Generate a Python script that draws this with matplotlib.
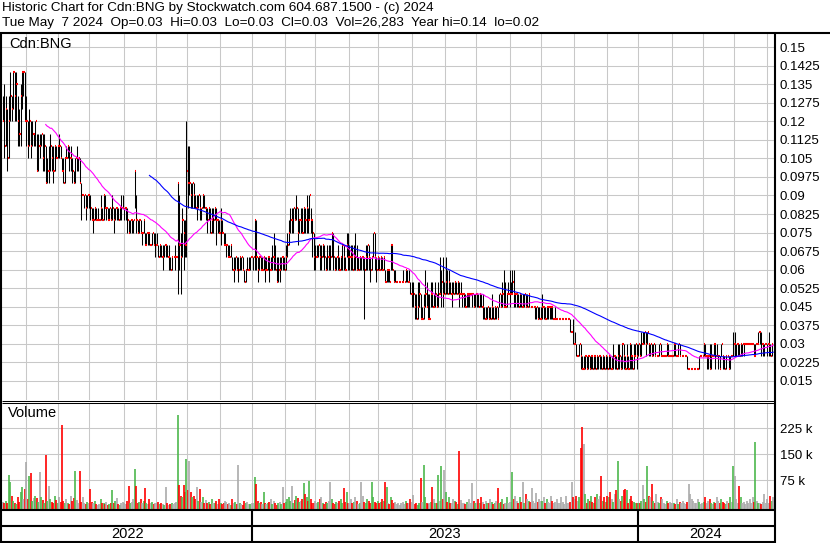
import matplotlib
matplotlib.use('Agg')
import matplotlib.pyplot as plt
import numpy as np
import pandas as pd

plt.rcParams['font.family'] = ['Liberation Sans', 'DejaVu Sans']

# daily prices in half-cent units (1 = $0.005), one row per month, May 2022 .. May 2024
close_hc = [
    [24, 22, 25, 21, 24, 26, 25, 28, 26, 27, 24, 23, 26, 28, 28, 24],
    [24, 22, 24, 22, 23, 23, 24, 20, 22, 22, 23, 21, 22, 19, 20, 20, 22, 21, 20, 22, 21, 22],
    [22, 21, 20, 19, 21, 21, 22, 21, 21, 20, 19, 21, 21, 21, 19, 18, 18, 18, 17, 18, 18],
    [17, 16, 16, 17, 16, 16, 16, 17, 16, 18, 17, 17, 16, 17, 16, 17, 16, 17, 17, 16, 17, 17, 17],
    [17, 17, 16, 15, 16, 16, 16, 20, 16, 15, 16, 15, 15, 16, 14, 15, 15, 14, 14, 15, 14, 14],
    [14, 13, 14, 13, 13, 14, 14, 13, 13, 12, 13, 13, 13, 13, 19, 14, 13, 16, 15, 14, 20],
    [19, 19, 18, 19, 18, 17, 17, 18, 17, 17, 18, 17, 17, 16, 17, 15, 16, 16, 17, 16, 16, 15],
    [16, 15, 14, 14, 14, 13, 13, 14, 12, 12, 13, 12, 12, 13, 13, 12, 11, 12, 12, 12, 13, 13],
    [13, 16, 13, 12, 13, 12, 12, 13, 12, 12, 13, 12, 12, 13, 13, 12, 11, 12, 12, 13, 13, 12],
    [13, 14, 15, 16, 16, 17, 16, 17, 15, 16, 16, 15, 17, 16, 17, 16, 18, 16, 15, 13],
    [13, 13, 14, 13, 13, 14, 13, 12, 13, 13, 13, 15, 13, 12, 13, 13, 12, 13, 14, 13, 12, 14, 13],
    [13, 13, 12, 13, 13, 12, 12, 13, 13, 13, 12, 13, 14, 13, 12, 13, 15, 13, 12, 13],
    [12, 13, 12, 13, 11, 12, 12, 11, 14, 12, 11, 11, 11, 11, 11, 11, 11, 11, 12, 11, 11, 10, 10],
    [10, 9, 8, 9, 10, 8, 8, 9, 10, 9, 8, 8, 10, 9, 9, 10, 9, 10, 10, 11, 10, 10],
    [11, 10, 11, 10, 10, 10, 11, 10, 11, 10, 10, 10, 10, 9, 10, 10, 10, 10, 10, 9, 10],
    [10, 9, 10, 9, 9, 8, 8, 9, 8, 8, 9, 8, 9, 9, 8, 10, 9, 10, 9, 9, 10, 10, 10],
    [10, 11, 10, 10, 10, 9, 10, 9, 9, 10, 9, 9, 10, 9, 9, 9, 9, 9, 8, 8, 8],
    [9, 9, 8, 9, 9, 9, 9, 8, 8, 8, 8, 8, 8, 8, 8, 8, 8, 8, 8, 7, 7, 6],
    [6, 5, 5, 6, 5, 4, 4, 5, 4, 5, 4, 5, 4, 5, 4, 5, 5, 5, 4, 5, 4, 5],
    [4, 5, 4, 4, 5, 5, 4, 5, 5, 4, 6, 5, 4, 5, 4, 6, 5, 4, 5, 6, 5],
    [6, 5, 6, 6, 7, 6, 7, 6, 6, 5, 6, 5, 5, 5, 6, 5, 5, 5, 5, 6, 5, 5, 5],
    [5, 6, 5, 5, 6, 5, 5, 5, 5, 5, 4, 4, 4, 4, 4, 4, 4, 4, 5, 5, 5],
    [6, 5, 5, 5, 4, 5, 5, 6, 5, 5, 5, 4, 6, 5, 4, 5, 5, 4, 5, 5, 6],
    [6, 6, 6, 5, 6, 6, 6, 6, 6, 6, 6, 6, 6, 5, 6, 6, 7, 7, 6, 6, 6, 6],
    [6, 6, 5, 6, 6],
]
high_hc = [
    [26, 27, 26, 25, 26, 28, 26, 28, 28, 28, 26, 25, 27, 28, 28, 28],
    [26, 24, 25, 24, 24, 23, 24, 23, 23, 23, 23, 23, 23, 22, 21, 22, 23, 22, 22, 22, 22, 22],
    [23, 22, 21, 21, 21, 22, 22, 22, 22, 21, 20, 21, 22, 21, 21, 19, 18, 18, 18, 18, 18],
    [18, 17, 17, 17, 17, 17, 16, 18, 17, 18, 18, 17, 17, 17, 17, 18, 17, 17, 17, 17, 17, 18, 18],
    [17, 17, 17, 16, 16, 16, 16, 20, 18, 16, 16, 16, 15, 16, 15, 15, 15, 15, 14, 15, 15, 15],
    [15, 14, 14, 14, 14, 14, 14, 14, 14, 13, 13, 13, 14, 13, 19, 18, 15, 17, 16, 16, 24],
    [22, 22, 19, 19, 19, 18, 18, 18, 18, 17, 18, 18, 17, 17, 17, 17, 17, 17, 17, 17, 16, 16],
    [17, 16, 15, 15, 14, 14, 14, 14, 13, 13, 13, 13, 13, 13, 13, 13, 12, 12, 13, 13, 13, 13],
    [13, 16, 16, 13, 13, 13, 13, 13, 13, 13, 13, 13, 13, 14, 15, 14, 13, 13, 13, 13, 13, 13],
    [14, 15, 16, 17, 17, 17, 17, 18, 17, 16, 17, 17, 17, 17, 18, 17, 18, 17, 16, 15],
    [14, 14, 14, 14, 14, 14, 14, 13, 14, 14, 14, 15, 15, 13, 13, 14, 13, 13, 14, 14, 13, 15, 15],
    [14, 14, 14, 14, 15, 14, 13, 13, 13, 13, 13, 14, 14, 14, 13, 13, 15, 15, 13, 13],
    [13, 13, 13, 13, 12, 12, 12, 12, 14, 14, 12, 12, 11, 11, 11, 11, 12, 11, 12, 12, 12, 11, 11],
    [11, 10, 10, 11, 11, 10, 9, 10, 12, 11, 10, 10, 11, 11, 10, 11, 10, 11, 13, 12, 13, 11],
    [13, 12, 12, 11, 11, 11, 11, 11, 11, 11, 11, 10, 10, 10, 10, 10, 10, 10, 10, 10, 10],
    [10, 10, 10, 10, 10, 9, 9, 9, 9, 9, 10, 9, 9, 9, 9, 10, 10, 11, 12, 11, 10, 11, 12],
    [11, 12, 12, 10, 10, 10, 10, 10, 10, 10, 10, 10, 10, 9, 9, 9, 9, 9, 9, 9, 9],
    [10, 9, 9, 9, 9, 9, 9, 9, 8, 9, 8, 8, 8, 8, 8, 8, 8, 8, 8, 8, 7, 8],
    [7, 6, 5, 6, 6, 5, 5, 5, 5, 5, 5, 5, 5, 5, 5, 5, 5, 5, 5, 5, 5, 5],
    [5, 5, 5, 5, 6, 5, 5, 6, 6, 5, 6, 6, 5, 6, 5, 6, 6, 5, 6, 6, 6],
    [6, 6, 7, 7, 7, 7, 7, 6, 6, 6, 6, 6, 5, 5, 6, 6, 5, 5, 5, 6, 6, 5, 5],
    [5, 6, 6, 5, 6, 6, 5, 5, 5, 5, 5, 4, 4, 4, 4, 4, 4, 4, 5, 5, 5],
    [6, 6, 5, 5, 6, 6, 5, 6, 6, 6, 5, 5, 6, 5, 5, 5, 5, 5, 5, 5, 7],
    [7, 6, 6, 6, 6, 6, 6, 6, 6, 6, 6, 6, 6, 6, 6, 6, 7, 7, 7, 6, 6, 6],
    [6, 7, 6, 6, 6],
]
low_hc = [
    [24, 21, 22, 20, 21, 24, 24, 25, 24, 24, 22, 22, 22, 25, 26, 24],
    [22, 21, 22, 21, 22, 22, 22, 20, 20, 21, 22, 20, 20, 19, 19, 19, 20, 20, 19, 20, 21, 21],
    [21, 21, 20, 19, 19, 21, 21, 20, 20, 19, 19, 19, 20, 20, 19, 16, 18, 17, 16, 17, 17],
    [16, 16, 15, 16, 16, 16, 16, 16, 16, 16, 17, 16, 16, 16, 16, 16, 15, 16, 16, 16, 16, 16, 17],
    [16, 16, 15, 15, 15, 15, 15, 17, 15, 15, 15, 15, 14, 15, 14, 14, 14, 14, 14, 14, 14, 13],
    [14, 13, 13, 13, 12, 13, 13, 13, 12, 12, 12, 13, 12, 13, 10, 12, 10, 13, 12, 13, 13],
    [17, 18, 17, 17, 17, 17, 16, 17, 16, 16, 17, 17, 16, 15, 16, 15, 15, 15, 16, 14, 15, 15],
    [14, 15, 14, 14, 13, 13, 13, 13, 12, 11, 12, 12, 11, 12, 12, 12, 11, 11, 12, 12, 12, 13],
    [12, 12, 12, 11, 12, 12, 12, 12, 11, 12, 12, 11, 12, 12, 12, 12, 11, 11, 11, 12, 12, 12],
    [12, 13, 14, 15, 15, 15, 16, 16, 14, 15, 15, 15, 15, 15, 15, 15, 16, 15, 13, 12],
    [12, 13, 13, 12, 12, 13, 12, 12, 12, 12, 12, 13, 12, 12, 12, 12, 12, 12, 12, 12, 12, 13, 12],
    [12, 12, 12, 12, 12, 12, 12, 12, 12, 12, 8, 12, 12, 12, 11, 12, 13, 12, 11, 12],
    [12, 12, 12, 12, 11, 11, 11, 11, 12, 12, 11, 11, 11, 11, 11, 11, 11, 11, 11, 11, 11, 10, 9],
    [9, 8, 8, 8, 9, 8, 8, 8, 9, 9, 8, 8, 9, 9, 9, 9, 9, 9, 10, 9, 9, 10],
    [10, 10, 10, 10, 9, 10, 10, 10, 10, 9, 10, 9, 9, 9, 9, 9, 9, 10, 9, 9, 9],
    [9, 9, 9, 9, 8, 8, 8, 8, 8, 8, 8, 8, 8, 8, 8, 9, 9, 9, 9, 9, 9, 10, 9],
    [10, 10, 9, 9, 9, 9, 9, 9, 9, 9, 9, 9, 9, 9, 9, 9, 8, 8, 8, 8, 8],
    [8, 8, 8, 8, 8, 8, 8, 8, 8, 8, 8, 8, 8, 8, 8, 8, 8, 8, 8, 7, 7, 6],
    [6, 5, 5, 5, 4, 4, 4, 4, 4, 4, 4, 4, 4, 4, 4, 4, 4, 4, 4, 4, 4, 4],
    [4, 4, 4, 4, 4, 4, 4, 4, 4, 4, 4, 4, 4, 4, 4, 4, 4, 4, 4, 5, 4],
    [5, 5, 5, 6, 6, 5, 6, 5, 5, 5, 5, 5, 5, 5, 5, 5, 5, 5, 5, 5, 5, 5, 5],
    [5, 5, 5, 5, 5, 5, 5, 5, 5, 5, 4, 4, 4, 4, 4, 4, 4, 4, 4, 5, 5],
    [5, 5, 4, 4, 4, 4, 5, 5, 4, 5, 4, 4, 5, 4, 4, 4, 5, 4, 4, 5, 5],
    [5, 5, 5, 5, 5, 5, 5, 6, 6, 6, 6, 6, 6, 5, 5, 6, 6, 6, 5, 5, 5, 6],
    [5, 5, 5, 5, 6],
]
# daily volume, thousands of shares
volume_k = [
    [12, 8, 15, 10, 89, 69, 29, 14, 10, 6, 26, 12, 40, 55, 20, 49],
    [127, 20, 87, 95, 15, 23, 30, 23, 12, 98, 25, 18, 10, 147, 14, 58, 20, 12, 8, 30, 18, 10],
    [25, 12, 236, 15, 8, 20, 10, 6, 30, 15, 22, 101, 18, 9, 101, 12, 25, 8, 5, 12, 10],
    [49, 12, 8, 15, 5, 3, 6, 20, 10, 8, 5, 12, 4, 6, 10, 46, 8, 15, 22, 6, 4, 10, 12],
    [10, 6, 15, 58, 8, 12, 20, 107, 58, 10, 12, 20, 8, 15, 52, 10, 5, 20, 8, 12, 6, 10],
    [8, 12, 5, 10, 6, 4, 55, 8, 3, 6, 10, 5, 8, 12, 265, 61, 30, 25, 61, 40, 136],
    [45, 130, 40, 25, 30, 20, 55, 15, 50, 12, 25, 10, 18, 8, 12, 6, 20, 10, 8, 15, 5, 20],
    [10, 5, 8, 15, 12, 6, 10, 4, 20, 8, 12, 5, 118, 10, 6, 3, 15, 8, 12, 5, 6, 10],
    [10, 84, 63, 15, 8, 12, 6, 40, 10, 5, 8, 12, 20, 6, 15, 10, 4, 8, 12, 6, 55, 10],
    [12, 20, 25, 15, 58, 10, 18, 30, 22, 12, 15, 20, 66, 35, 25, 15, 72, 20, 10, 8],
    [15, 8, 12, 20, 25, 10, 6, 12, 8, 15, 69, 20, 10, 5, 12, 8, 15, 20, 10, 52, 12, 40, 8],
    [10, 20, 8, 12, 25, 15, 6, 10, 69, 30, 12, 8, 20, 15, 10, 69, 25, 12, 8, 15],
    [8, 12, 20, 15, 69, 55, 10, 6, 25, 18, 8, 12, 6, 10, 4, 8, 12, 6, 15, 10, 8, 20, 12],
    [32, 6, 10, 4, 8, 81, 12, 118, 25, 10, 6, 8, 12, 55, 20, 10, 8, 89, 15, 115, 20, 104],
    [40, 12, 25, 10, 8, 20, 15, 12, 6, 159, 18, 10, 8, 5, 12, 6, 20, 10, 66, 15, 8],
    [10, 20, 8, 25, 12, 6, 15, 10, 8, 20, 12, 6, 10, 15, 52, 8, 12, 20, 6, 10, 25, 8, 12],
    [12, 98, 20, 30, 15, 10, 25, 12, 69, 10, 35, 20, 15, 12, 52, 15, 10, 38, 12, 20, 15],
    [15, 25, 10, 20, 12, 8, 30, 15, 10, 12, 20, 8, 10, 25, 12, 6, 30, 10, 8, 12, 69, 25],
    [20, 30, 15, 25, 167, 228, 179, 35, 10, 20, 15, 30, 12, 8, 25, 35, 20, 30, 87, 15, 25, 12],
    [30, 25, 40, 20, 12, 35, 45, 130, 20, 15, 30, 45, 50, 45, 10, 20, 30, 15, 12, 8, 10],
    [10, 8, 15, 61, 20, 12, 115, 30, 25, 63, 15, 10, 35, 12, 8, 25, 20, 10, 6, 15, 8, 12, 10],
    [8, 10, 5, 20, 6, 12, 8, 15, 10, 6, 12, 63, 35, 20, 15, 10, 8, 20, 12, 6, 10],
    [12, 25, 8, 15, 20, 10, 6, 12, 8, 25, 15, 10, 20, 12, 8, 6, 15, 10, 25, 12, 115],
    [87, 20, 10, 58, 25, 8, 12, 6, 15, 10, 20, 8, 25, 12, 185, 15, 10, 8, 6, 12, 35, 10],
    [20, 8, 30, 15, 26],
]
price_ticks = [0.015, 0.0225, 0.03, 0.0375, 0.045, 0.0525, 0.06, 0.0675, 0.075, 0.0825,
               0.09, 0.0975, 0.105, 0.1125, 0.12, 0.1275, 0.135, 0.1425, 0.15]
vol_ticks = [75, 150, 225]

title1 = 'Historic Chart for Cdn:BNG by Stockwatch.com 604.687.1500 - (c) 2024'
title2 = 'Tue May  7 2024  Op=0.03  Hi=0.03  Lo=0.03  Cl=0.03  Vol=26,283  Year hi=0.14  lo=0.02'

c = np.concatenate(close_hc) * 0.005
hi = np.maximum(np.concatenate(high_hc) * 0.005, c)
lo = np.minimum(np.concatenate(low_hc) * 0.005, c)
vol = np.concatenate(volume_k).astype(float)
N = len(c)
x = np.arange(N)
dates = pd.bdate_range('2022-05-10', periods=N)
ma30 = pd.Series(c).rolling(30).mean()
ma100 = pd.Series(c).rolling(100).mean()

month_start = [i for i in range(1, N) if dates[i].month != dates[i - 1].month]
year_start = [i for i in range(1, N) if dates[i].year != dates[i - 1].year]

W, H = 830, 543
GRID = '#c8c8c8'


def box(x0, y0, x1, y1):
    return [x0 / W, 1 - y1 / H, (x1 - x0) / W, (y1 - y0) / H]


fig = plt.figure(figsize=(W / 100, H / 100), dpi=100)
ax = fig.add_axes(box(2, 33, 774, 400))
axv = fig.add_axes(box(2, 402.5, 774, 509))
over = fig.add_axes([0, 0, 1, 1])
over.set_xlim(0, W)
over.set_ylim(H, 0)
over.axis('off')

# price panel
ax.set_xlim(-0.5, N - 0.5)
ax.set_ylim(0.00732, 0.15566)
ax.set_yticks(price_ticks)
ax.set_yticklabels(['%g' % t for t in price_ticks])
ax.yaxis.tick_right()
ax.tick_params(axis='y', length=0, pad=4, labelsize=9.5)
ax.set_xticks([])
ax.grid(axis='y', color=GRID, lw=0.75)
ax.set_axisbelow(True)
for s in ax.spines.values():
    s.set_visible(False)
for m in month_start:
    ax.axvline(m - 0.5, color=GRID, lw=0.75, zorder=0)

rng = hi > lo
ax.vlines(x[rng], lo[rng], hi[rng], color='black', lw=0.75, zorder=2)
ax.hlines(c, x + 0.25, x + 1.05, color='red', lw=1.5, zorder=3)
ax.plot(x, ma30, color='#ff00ff', lw=0.8, zorder=4)
ax.plot(x, ma100, color='#0000ff', lw=0.8, zorder=4)

# volume panel
vlo, vhi = -8.65, 300
axv.set_xlim(-0.5, N - 0.5)
axv.set_ylim(vlo, vhi)
axv.set_yticks(vol_ticks)
axv.set_yticklabels(['%d k' % t for t in vol_ticks])
axv.yaxis.tick_right()
axv.tick_params(axis='y', length=0, pad=4, labelsize=9.5)
axv.set_xticks([])
axv.grid(axis='y', color=GRID, lw=0.75)
axv.set_axisbelow(True)
for s in axv.spines.values():
    s.set_visible(False)
for m in month_start:
    axv.axvline(m - 0.5, color=GRID, lw=0.75, zorder=0)

chg = np.diff(c, prepend=c[0])
colors = np.where(chg > 1e-9, '#4db84d', np.where(chg < -1e-9, '#ff0000', '#aaaaaa'))
axv.vlines(x, vlo, vol, colors=colors, lw=1.2, zorder=2)

# frame and labels in pixel space
k = dict(color='black', solid_capstyle='butt')
over.plot([0, W], [32.5, 32.5], lw=1.5, **k)
over.plot([1, 1], [32, 542.5], lw=1.5, **k)
over.plot([774.5, 774.5], [32, H], lw=1.5, **k)
over.plot([2, 774], [400.5, 400.5], lw=0.75, **k)
over.plot([2, 774], [402.5, 402.5], lw=0.75, **k)
for yy in (509.5, 525.5, 541.5):
    over.plot([0, 775], [yy, yy], lw=1.5, **k)

px = lambda i: 2 + i * 772 / N
edges = [0] + year_start + [N]
for i in year_start:
    over.plot([px(i), px(i)], [509.5, 541.5], lw=1.5, **k)
for a, b in zip(edges[:-1], edges[1:]):
    over.text((px(a) + px(b)) / 2, 534, str(dates[a].year), ha='center', va='center', fontsize=10.5)

over.text(2, 8, title1, fontsize=9.7, va='center')
over.text(2, 23, title2, fontsize=9.7, va='center')
over.text(9, 44, 'Cdn:BNG', fontsize=10.5, va='center')
over.text(8, 413, 'Volume', fontsize=10.5, va='center')

fig.savefig('out.png', dpi=100, facecolor='white')
